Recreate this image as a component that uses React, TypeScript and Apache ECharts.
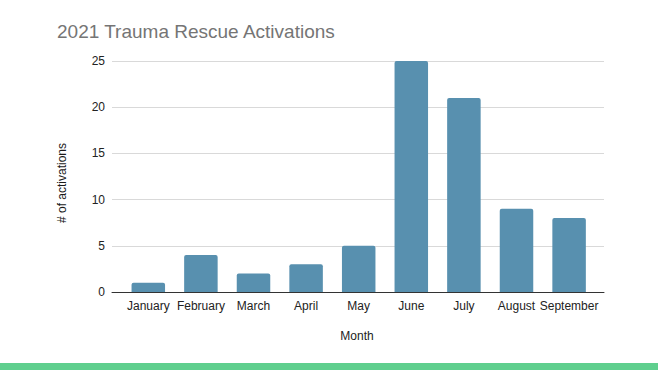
import React, { useEffect, useRef } from "react";
import * as echarts from "echarts";

const months = ["January", "February", "March", "April", "May", "June", "July", "August", "September"];
const activations = [1, 4, 2, 3, 5, 25, 21, 9, 8];
const yTicks = { min: 0, max: 25, interval: 5 };
const titleText = "2021 Trauma Rescue Activations";
const yAxisTitle = "# of activations";
const xAxisTitle = "Month";

const FONT = "'Liberation Sans', Arial, sans-serif";

export default function App() {
  const ref = useRef<HTMLDivElement>(null);
  useEffect(() => {
    if (!ref.current) return;
    const chart = echarts.init(ref.current, undefined, { renderer: "svg" });
    chart.setOption({
      animation: false,
      backgroundColor: "#ffffff",
      textStyle: { fontFamily: FONT },
      title: {
        text: titleText,
        left: 52,
        top: 17,
        textStyle: { fontSize: 19, fontWeight: "normal", color: "#757575", fontFamily: FONT },
      },
      grid: [
        { left: 112, right: 54, top: 61, bottom: 78 },
        { left: 122, width: 473.4, top: 61, bottom: 78 },
      ],
      xAxis: [
        {
          gridIndex: 0,
          type: "value",
          min: 0,
          max: 1,
          axisLine: { show: true, lineStyle: { color: "#333333", width: 1 } },
          axisTick: { show: false },
          axisLabel: { show: false },
          splitLine: { show: false },
        },
        {
          gridIndex: 1,
          type: "category",
          data: months,
          axisLine: { show: false },
          axisTick: { show: false },
          axisLabel: { color: "#222222", fontSize: 12, margin: 8, fontFamily: FONT, interval: 0 },
        },
      ],
      yAxis: [
        {
          gridIndex: 0,
          type: "value",
          min: yTicks.min,
          max: yTicks.max,
          interval: yTicks.interval,
          axisLine: { show: false },
          axisTick: { show: false },
          axisLabel: { color: "#222222", fontSize: 12, margin: 7, fontFamily: FONT },
          splitLine: { lineStyle: { color: "#d9d9d9", width: 1 } },
        },
        {
          gridIndex: 1,
          type: "value",
          min: yTicks.min,
          max: yTicks.max,
          show: false,
          splitLine: { show: false },
        },
      ],
      series: [
        {
          type: "bar",
          xAxisIndex: 1,
          yAxisIndex: 1,
          data: activations,
          barWidth: 33.5,
          itemStyle: { color: "#5890af", borderRadius: [2, 2, 0, 0] },
        },
      ],
      graphic: [
        {
          type: "text",
          x: 62,
          y: 183,
          rotation: Math.PI / 2,
          style: {
            text: yAxisTitle,
            fill: "#1a1a1a",
            fontSize: 12,
            fontFamily: FONT,
            align: "center",
            verticalAlign: "middle",
          },
        },
        {
          type: "text",
          x: 357,
          y: 336,
          style: {
            text: xAxisTitle,
            fill: "#222222",
            fontSize: 12,
            fontFamily: FONT,
            align: "center",
            verticalAlign: "middle",
          },
        },
        {
          type: "rect",
          shape: { x: 0, y: 363, width: 658, height: 7 },
          style: { fill: "#5fcf8e" },
        },
      ],
    });
    return () => chart.dispose();
  }, []);
  return (
    <div
      ref={ref}
      style={{ position: "absolute", left: 0, top: 0, width: 658, height: 370 }}
    />
  );
}
